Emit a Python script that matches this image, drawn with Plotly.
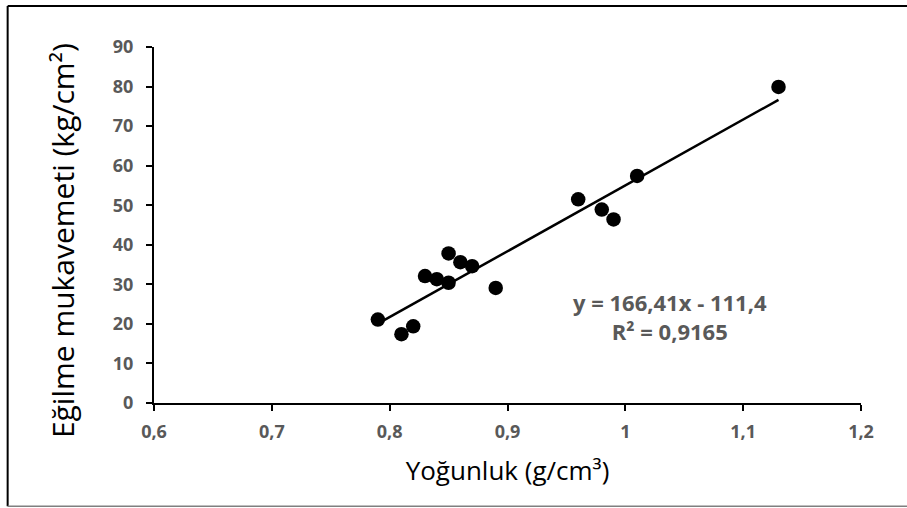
import numpy as np
import plotly.graph_objects as go

density = [0.79, 0.81, 0.82, 0.83, 0.84, 0.85, 0.85, 0.86, 0.87, 0.89, 0.96, 0.98, 0.99, 1.01, 1.13]
strength = [21.1, 17.4, 19.4, 32.1, 31.3, 30.4, 37.8, 35.6, 34.6, 29.1, 51.5, 48.9, 46.4, 57.4, 79.9]
slope = 166.41
intercept = -111.4
r2_text = "0,9165"
x_ticks = [0.6, 0.7, 0.8, 0.9, 1.0, 1.1, 1.2]
y_ticks = [0, 10, 20, 30, 40, 50, 60, 70, 80, 90]
x_title = "Yoğunluk (g/cm³)"
y_title = "Eğilme mukavemeti (kg/cm²)"

trend_x = [min(density), max(density)]
trend_y = [slope * v + intercept for v in trend_x]

fig = go.Figure()
fig.add_trace(go.Scatter(x=trend_x, y=trend_y, mode="lines",
                         line=dict(color="black", width=2.5), hoverinfo="skip"))
fig.add_trace(go.Scatter(x=density, y=strength, mode="markers",
                         marker=dict(color="black", size=14.5)))

tick_font = dict(family="Open Sans", size=18, color="#595959", weight="bold")
fig.update_layout(
    width=907, height=508,
    margin=dict(l=154, r=46, t=47, b=105),
    paper_bgcolor="white", plot_bgcolor="white",
    showlegend=False,
    separators=",.",
    font=dict(family="Open Sans"),
    xaxis=dict(range=[0.6, 1.2], tickvals=x_ticks, showgrid=False, zeroline=False,
               showline=True, linecolor="black", linewidth=2,
               ticks="outside", ticklen=6, tickwidth=2, tickcolor="black",
               tickfont=tick_font, ticklabelstandoff=5,
               title=dict(text=x_title, font=dict(family="Open Sans", size=26, color="black"),
                          standoff=20)),
    yaxis=dict(range=[0, 90], tickvals=y_ticks, showgrid=False, zeroline=False,
               showline=True, linecolor="black", linewidth=2,
               ticks="outside", ticklen=6, tickwidth=2, tickcolor="black",
               tickfont=tick_font, ticklabelstandoff=9),
)

fig.add_annotation(x=-0.13, y=0.455, xref="paper", yref="paper", text=y_title,
                   textangle=-90, showarrow=False, xanchor="center", yanchor="middle",
                   font=dict(family="Open Sans", size=30, color="black"))

fig.add_annotation(x=1.038, y=21.8, xref="x", yref="y",
                   text=f"y = {str(slope).replace('.', ',')}x - {str(-intercept).replace('.', ',')}<br>R² = {r2_text}",
                   showarrow=False, align="center",
                   font=dict(family="Open Sans", size=22, color="#595959", weight="bold"))

# chart border
fig.add_shape(type="line", xref="paper", yref="paper", x0=-0.207, x1=-0.207, y0=-0.29, y1=1.115,
              line=dict(color="black", width=2))
fig.add_shape(type="line", xref="paper", yref="paper", x0=-0.207, x1=1.07, y0=1.115, y1=1.115,
              line=dict(color="black", width=2))
fig.add_shape(type="line", xref="paper", yref="paper", x0=-0.207, x1=1.07, y0=-0.29, y1=-0.29,
              line=dict(color="#7f7f7f", width=1.5))

fig.write_html("out.html", config={"displayModeBar": False},
               post_script="document.body.style.margin='0';")
